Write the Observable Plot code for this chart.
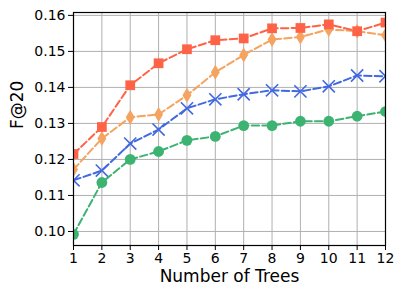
<!DOCTYPE html>
<html><head><meta charset="utf-8">
<script src="https://cdn.jsdelivr.net/npm/d3@7"></script>
<script src="https://cdn.jsdelivr.net/npm/@observablehq/plot@0.6"></script>
<style>body{margin:0;background:#fff}</style>
</head><body><div id="chart"></div>
<script>
const trees = [1,2,3,4,5,6,7,8,9,10,11,12];
const redVals =    [0.1215,0.1290,0.1406,0.1467,0.1506,0.1531,0.1536,0.1564,0.1565,0.1575,0.1556,0.1580];
const orangeVals = [0.1172,0.1258,0.1317,0.1325,0.1378,0.1442,0.1490,0.1533,0.1540,0.1561,0.1556,0.1545];
const blueVals =   [0.1142,0.1169,0.1244,0.1283,0.1342,0.1367,0.1381,0.1392,0.1389,0.1403,0.1433,0.1431];
const greenVals =  [0.0992,0.1136,0.1200,0.1222,0.1253,0.1264,0.1294,0.1294,0.1306,0.1306,0.1320,0.1333];
const yTicks = [0.10,0.11,0.12,0.13,0.14,0.15,0.16];

const seriesDefs = [
  {name:"green", vals:greenVals, color:"#3cb371", symbol:"circle"},
  {name:"blue", vals:blueVals, color:"#4169e1", symbol:"times"},
  {name:"orange", vals:orangeVals, color:"#f4a460", symbol:"thin"},
  {name:"red", vals:redVals, color:"#ff6347", symbol:"square"}
];

const thinDiamond = {
  draw(ctx, size) {
    const r = Math.sqrt(size) * 0.62;
    const w = r * 0.6;
    ctx.moveTo(0, -r); ctx.lineTo(w, 0); ctx.lineTo(0, r); ctx.lineTo(-w, 0); ctx.closePath();
  }
};

const marks = [
  Plot.gridX(trees, {stroke:"#b0b0b0", strokeOpacity:1, strokeWidth:1}),
  Plot.gridY(yTicks, {stroke:"#b0b0b0", strokeOpacity:1, strokeWidth:1}),
];
for (const s of seriesDefs) {
  const data = trees.map((t,i)=>({x:t, y:s.vals[i]}));
  marks.push(Plot.line(data, {x:"x", y:"y", stroke:s.color, strokeWidth:2, strokeDasharray:"7.4,3.2", clip:true}));
  if (s.symbol === "times") {
    marks.push(Plot.dot(data, {x:"x", y:"y", symbol:"times", r:5.6, stroke:s.color, strokeWidth:1.6, clip:true}));
  } else if (s.symbol === "thin") {
    marks.push(Plot.dot(data, {x:"x", y:"y", symbol:thinDiamond, r:6.8, fill:s.color, stroke:null, clip:true}));
  } else if (s.symbol === "square") {
    marks.push(Plot.dot(data, {x:"x", y:"y", symbol:"square", r:5.5, fill:s.color, stroke:null, clip:true}));
  } else {
    marks.push(Plot.dot(data, {x:"x", y:"y", symbol:"circle", r:5.4, fill:s.color, stroke:null, clip:true}));
  }
}
marks.push(
  Plot.frame({stroke:"#000", strokeWidth:1.2}),
  Plot.axisX(trees, {tickSize:5, tickPadding:3, fontSize:14, label:null, tickFormat:d=>String(d)}),
  Plot.axisY(yTicks, {tickSize:5, tickPadding:3, fontSize:14, label:null, tickFormat:d3.format(".2f")}),
  Plot.text(["Number of Trees"], {frameAnchor:"bottom", dy:36, fontSize:17, fill:"#000"}),
  Plot.text(["F@20"], {frameAnchor:"left", dx:-56, rotate:-90, fontSize:17, fill:"#000"})
);

const chart = Plot.plot({
  width:404, height:300,
  marginLeft:73, marginRight:19, marginTop:12, marginBottom:55,
  style:{fontFamily:"DejaVu Sans", color:"#000", background:"#fff"},
  x:{domain:[1,12]},
  y:{domain:[0.0961,0.1608]},
  marks
});
document.getElementById("chart").appendChild(chart);
</script>
</body></html>
